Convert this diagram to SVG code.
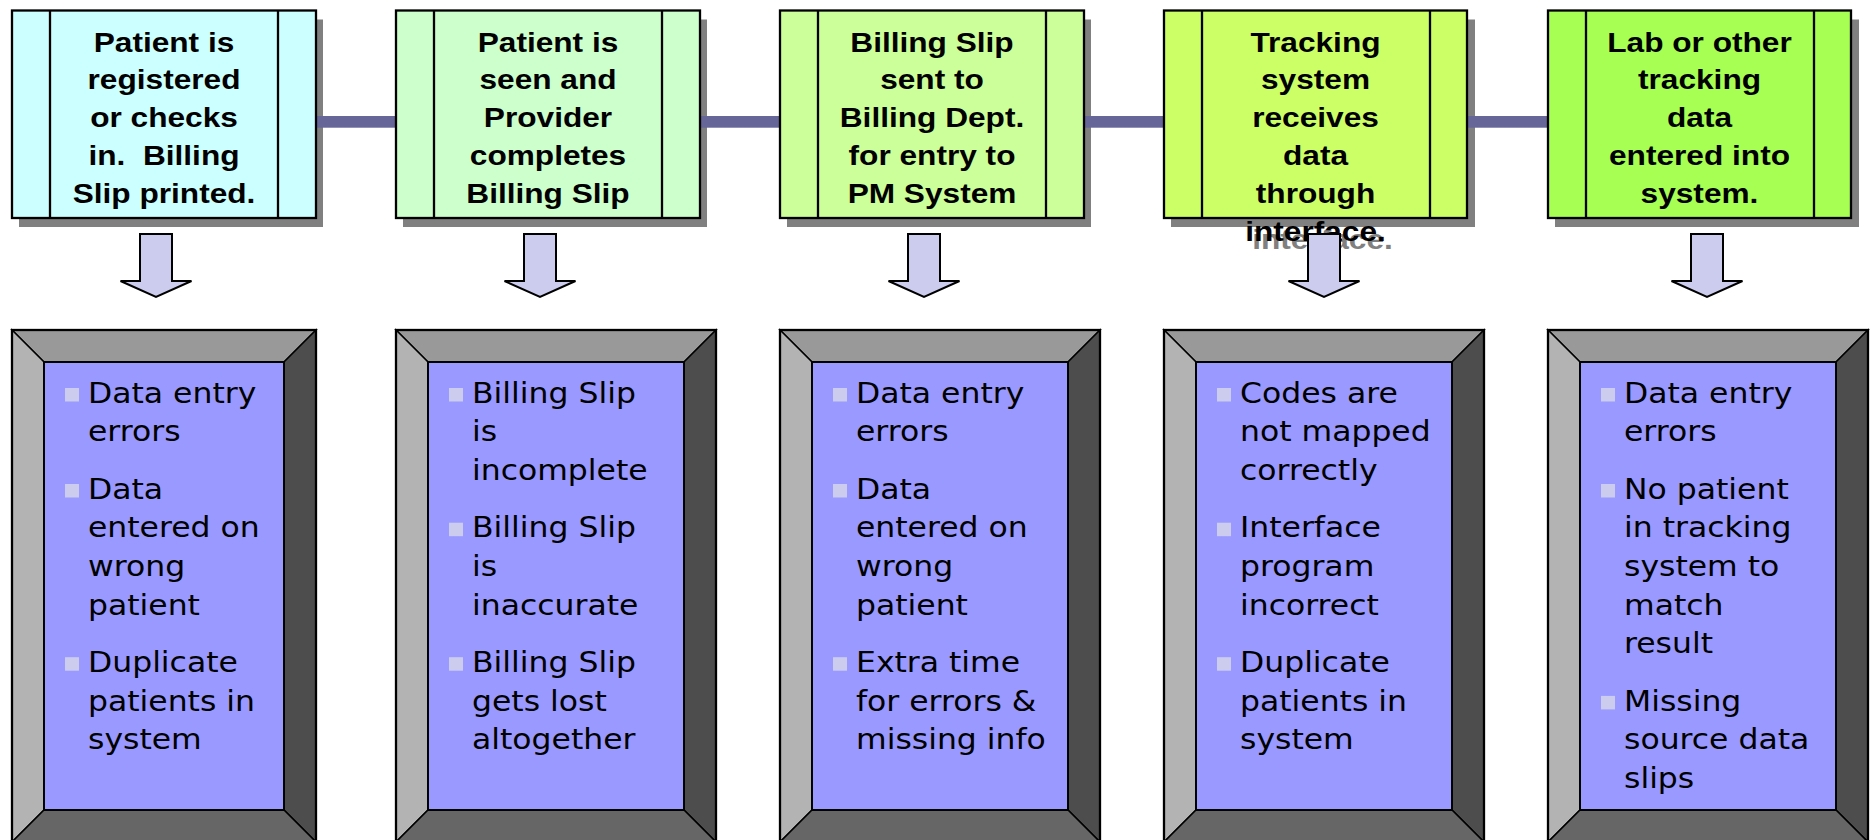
<svg xmlns="http://www.w3.org/2000/svg" width="1872" height="840" viewBox="0 0 1872 840">
<style>
.box{stroke:#000;stroke-width:2.3}
.band{stroke:#000;stroke-width:2.3;fill:none}
.shadow{fill:#808080}
.tt{font-family:"Liberation Sans",Arial,sans-serif;font-weight:bold;font-size:28px;fill:#000;text-anchor:middle}
.tts{font-family:"Liberation Sans",Arial,sans-serif;font-weight:bold;font-size:28px;fill:#808080;text-anchor:middle}
.conn{fill:#666699}
.arrow{fill:#ccccee;stroke:#000;stroke-width:2}
.bt{fill:#b3b3b3;stroke:#000;stroke-width:1.5}
.bl{fill:#b3b3b3;stroke:#000;stroke-width:1.5}
.btop{fill:#999999;stroke:#000;stroke-width:1.5}
.br{fill:#4d4d4d;stroke:#000;stroke-width:1.5}
.bb{fill:#666666;stroke:#000;stroke-width:1.5}
.inner{fill:#9999ff;stroke:#000;stroke-width:2}
.outer{fill:none;stroke:#000;stroke-width:2.3}
.li{font-family:"DejaVu Sans",Verdana,sans-serif;font-size:29px;fill:#000}
.bul{fill:#ccccee}
</style>

<!-- shadows of top boxes -->
<g id="shadows">
<rect class="shadow" x="19" y="19.5" width="304" height="207.5"/>
<rect class="shadow" x="403" y="19.5" width="304" height="207.5"/>
<rect class="shadow" x="787" y="19.5" width="304" height="207.5"/>
<rect class="shadow" x="1171" y="19.5" width="304" height="207.5"/>
<rect class="shadow" x="1555" y="19.5" width="304" height="207.5"/>
<text class="tts" transform="translate(1322.5,0) scale(1.13,1)" x="0" y="249.5">interface.</text>
</g>

<g id="connectors">
<rect class="conn" x="317" y="116" width="78" height="11.7"/>
<rect class="conn" x="701" y="116" width="78" height="11.7"/>
<rect class="conn" x="1085" y="116" width="78" height="11.7"/>
<rect class="conn" x="1468" y="116" width="79" height="11.7"/>
</g>

<g id="step1">
<rect class="box" x="12" y="10.5" width="304" height="207.5" fill="#ccffff"/>
<line class="band" x1="50" y1="10.5" x2="50" y2="218"/>
<line class="band" x1="278" y1="10.5" x2="278" y2="218"/>
<g transform="translate(164,0) scale(1.13,1)">
<text class="tt" x="0" y="51.6">Patient is</text>
<text class="tt" x="0" y="89.5">registered</text>
<text class="tt" x="0" y="127.4">or checks</text>
<text class="tt" x="0" y="165.3">in.&#160; Billing</text>
<text class="tt" x="0" y="203.2">Slip printed.</text>
</g>
</g>

<g id="step2">
<rect class="box" x="396" y="10.5" width="304" height="207.5" fill="#ccffcc"/>
<line class="band" x1="434" y1="10.5" x2="434" y2="218"/>
<line class="band" x1="662" y1="10.5" x2="662" y2="218"/>
<g transform="translate(548,0) scale(1.13,1)">
<text class="tt" x="0" y="51.6">Patient is</text>
<text class="tt" x="0" y="89.5">seen and</text>
<text class="tt" x="0" y="127.4">Provider</text>
<text class="tt" x="0" y="165.3">completes</text>
<text class="tt" x="0" y="203.2">Billing Slip</text>
</g>
</g>

<g id="step3">
<rect class="box" x="780" y="10.5" width="304" height="207.5" fill="#ccff99"/>
<line class="band" x1="818" y1="10.5" x2="818" y2="218"/>
<line class="band" x1="1046" y1="10.5" x2="1046" y2="218"/>
<g transform="translate(932,0) scale(1.13,1)">
<text class="tt" x="0" y="51.6">Billing Slip</text>
<text class="tt" x="0" y="89.5">sent to</text>
<text class="tt" x="0" y="127.4">Billing Dept.</text>
<text class="tt" x="0" y="165.3">for entry to</text>
<text class="tt" x="0" y="203.2">PM System</text>
</g>
</g>

<g id="step4">
<rect class="box" x="1164" y="10.5" width="303" height="207.5" fill="#ccff66"/>
<line class="band" x1="1202" y1="10.5" x2="1202" y2="218"/>
<line class="band" x1="1430" y1="10.5" x2="1430" y2="218"/>
<g transform="translate(1315.5,0) scale(1.13,1)">
<text class="tt" x="0" y="51.6">Tracking</text>
<text class="tt" x="0" y="89.5">system</text>
<text class="tt" x="0" y="127.4">receives</text>
<text class="tt" x="0" y="165.3">data</text>
<text class="tt" x="0" y="203.2">through</text>
<text class="tt" x="0" y="241.1">interface.</text>
</g>
</g>

<g id="step5">
<rect class="box" x="1548" y="10.5" width="303" height="207.5" fill="#a6ff52"/>
<line class="band" x1="1586" y1="10.5" x2="1586" y2="218"/>
<line class="band" x1="1814" y1="10.5" x2="1814" y2="218"/>
<g transform="translate(1699.5,0) scale(1.13,1)">
<text class="tt" x="0" y="51.6">Lab or other</text>
<text class="tt" x="0" y="89.5">tracking</text>
<text class="tt" x="0" y="127.4">data</text>
<text class="tt" x="0" y="165.3">entered into</text>
<text class="tt" x="0" y="203.2">system.</text>
</g>
</g>

<g id="arrows">
<path class="arrow" d="M140,234 H172 V281 H191.5 L156,297 L120.5,281 H140 Z"/>
<path class="arrow" d="M524,234 H556 V281 H575.5 L540,297 L504.5,281 H524 Z"/>
<path class="arrow" d="M908,234 H940 V281 H959.5 L924,297 L888.5,281 H908 Z"/>
<path class="arrow" d="M1308,234 H1340 V281 H1359.5 L1324,297 L1288.5,281 H1308 Z"/>
<path class="arrow" d="M1691,234 H1723 V281 H1742.5 L1707,297 L1671.5,281 H1691 Z"/>
</g>

<g id="issues1">
<polygon class="btop" points="12,330 316,330 284,362 44,362"/>
<polygon class="bl" points="12,330 44,362 44,810 12,842"/>
<polygon class="br" points="316,330 316,842 284,810 284,362"/>
<polygon class="bb" points="12,842 44,810 284,810 316,842"/>
<rect class="inner" x="44" y="362" width="240" height="448"/>
<rect class="outer" x="12" y="330" width="304" height="512"/>
<rect class="bul" x="65" y="388" width="14" height="13.5"/>
<rect class="bul" x="65" y="484" width="14" height="13.5"/>
<rect class="bul" x="65" y="657.2" width="14" height="13.5"/>
<g transform="translate(88,0) scale(1.085,1)">
<text class="li" x="0" y="402.7">Data entry</text>
<text class="li" x="0" y="441.4">errors</text>
<text class="li" x="0" y="498.6">Data</text>
<text class="li" x="0" y="537.3">entered on</text>
<text class="li" x="0" y="576">wrong</text>
<text class="li" x="0" y="614.7">patient</text>
<text class="li" x="0" y="671.9">Duplicate</text>
<text class="li" x="0" y="710.6">patients in</text>
<text class="li" x="0" y="749.3">system</text>
</g>
</g>

<g id="issues2">
<polygon class="btop" points="396,330 716,330 684,362 428,362"/>
<polygon class="bl" points="396,330 428,362 428,810 396,842"/>
<polygon class="br" points="716,330 716,842 684,810 684,362"/>
<polygon class="bb" points="396,842 428,810 684,810 716,842"/>
<rect class="inner" x="428" y="362" width="256" height="448"/>
<rect class="outer" x="396" y="330" width="320" height="512"/>
<rect class="bul" x="449" y="388" width="14" height="13.5"/>
<rect class="bul" x="449" y="522.7" width="14" height="13.5"/>
<rect class="bul" x="449" y="657.2" width="14" height="13.5"/>
<g transform="translate(472,0) scale(1.085,1)">
<text class="li" x="0" y="402.7">Billing Slip</text>
<text class="li" x="0" y="441.4">is</text>
<text class="li" x="0" y="480.1">incomplete</text>
<text class="li" x="0" y="537.3">Billing Slip</text>
<text class="li" x="0" y="576">is</text>
<text class="li" x="0" y="614.7">inaccurate</text>
<text class="li" x="0" y="671.9">Billing Slip</text>
<text class="li" x="0" y="710.6">gets lost</text>
<text class="li" x="0" y="749.3">altogether</text>
</g>
</g>

<g id="issues3">
<polygon class="btop" points="780,330 1100,330 1068,362 812,362"/>
<polygon class="bl" points="780,330 812,362 812,810 780,842"/>
<polygon class="br" points="1100,330 1100,842 1068,810 1068,362"/>
<polygon class="bb" points="780,842 812,810 1068,810 1100,842"/>
<rect class="inner" x="812" y="362" width="256" height="448"/>
<rect class="outer" x="780" y="330" width="320" height="512"/>
<rect class="bul" x="833" y="388" width="14" height="13.5"/>
<rect class="bul" x="833" y="484" width="14" height="13.5"/>
<rect class="bul" x="833" y="657.2" width="14" height="13.5"/>
<g transform="translate(856,0) scale(1.085,1)">
<text class="li" x="0" y="402.7">Data entry</text>
<text class="li" x="0" y="441.4">errors</text>
<text class="li" x="0" y="498.6">Data</text>
<text class="li" x="0" y="537.3">entered on</text>
<text class="li" x="0" y="576">wrong</text>
<text class="li" x="0" y="614.7">patient</text>
<text class="li" x="0" y="671.9">Extra time</text>
<text class="li" x="0" y="710.6">for errors &amp;</text>
<text class="li" x="0" y="749.3">missing info</text>
</g>
</g>

<g id="issues4">
<polygon class="btop" points="1164,330 1484,330 1452,362 1196,362"/>
<polygon class="bl" points="1164,330 1196,362 1196,810 1164,842"/>
<polygon class="br" points="1484,330 1484,842 1452,810 1452,362"/>
<polygon class="bb" points="1164,842 1196,810 1452,810 1484,842"/>
<rect class="inner" x="1196" y="362" width="256" height="448"/>
<rect class="outer" x="1164" y="330" width="320" height="512"/>
<rect class="bul" x="1217" y="388" width="14" height="13.5"/>
<rect class="bul" x="1217" y="522.7" width="14" height="13.5"/>
<rect class="bul" x="1217" y="657.2" width="14" height="13.5"/>
<g transform="translate(1240,0) scale(1.085,1)">
<text class="li" x="0" y="402.7">Codes are</text>
<text class="li" x="0" y="441.4">not mapped</text>
<text class="li" x="0" y="480.1">correctly</text>
<text class="li" x="0" y="537.3">Interface</text>
<text class="li" x="0" y="576">program</text>
<text class="li" x="0" y="614.7">incorrect</text>
<text class="li" x="0" y="671.9">Duplicate</text>
<text class="li" x="0" y="710.6">patients in</text>
<text class="li" x="0" y="749.3">system</text>
</g>
</g>

<g id="issues5">
<polygon class="btop" points="1548,330 1868,330 1836,362 1580,362"/>
<polygon class="bl" points="1548,330 1580,362 1580,810 1548,842"/>
<polygon class="br" points="1868,330 1868,842 1836,810 1836,362"/>
<polygon class="bb" points="1548,842 1580,810 1836,810 1868,842"/>
<rect class="inner" x="1580" y="362" width="256" height="448"/>
<rect class="outer" x="1548" y="330" width="320" height="512"/>
<rect class="bul" x="1601" y="388" width="14" height="13.5"/>
<rect class="bul" x="1601" y="484" width="14" height="13.5"/>
<rect class="bul" x="1601" y="695.9" width="14" height="13.5"/>
<g transform="translate(1624,0) scale(1.085,1)">
<text class="li" x="0" y="402.7">Data entry</text>
<text class="li" x="0" y="441.4">errors</text>
<text class="li" x="0" y="498.6">No patient</text>
<text class="li" x="0" y="537.3">in tracking</text>
<text class="li" x="0" y="576">system to</text>
<text class="li" x="0" y="614.7">match</text>
<text class="li" x="0" y="653.4">result</text>
<text class="li" x="0" y="710.6">Missing</text>
<text class="li" x="0" y="749.3">source data</text>
<text class="li" x="0" y="788">slips</text>
</g>
</g>
</svg>
